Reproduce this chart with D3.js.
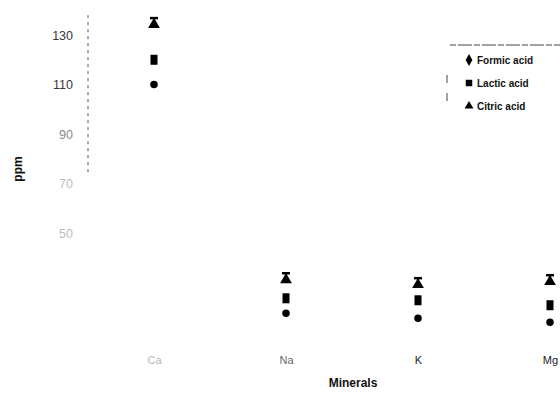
<!DOCTYPE html>
<html>
<head>
<meta charset="utf-8">
<script src="https://cdn.jsdelivr.net/npm/d3@7/dist/d3.min.js"></script>
<style>
  html, body { margin: 0; padding: 0; background: #fff; }
  svg { display: block; font-family: "Liberation Sans", Arial, sans-serif; }
</style>
</head>
<body>
<svg id="chart" width="560" height="395"></svg>
<script>
// Mineral content (ppm) extracted by three organic acids
const minerals = ["Ca", "Na", "K", "Mg"];
const formic = [110, 17.7, 15.6, 14.0];
const lactic = [120, 23.7, 22.9, 20.9];
const citric = [134.8, 31.8, 29.8, 31.0];
const yTicks = [50, 70, 90, 110, 130];
const seriesNames = ["Formic acid", "Lactic acid", "Citric acid"];

const svg = d3.select("#chart");

const x = d3.scalePoint()
  .domain(minerals)
  .range([154, 550]);

const y = d3.scaleLinear()
  .domain([0, 130])
  .range([357, 35]);

// Left axis: dashed spine with tick labels only
const yAxis = d3.axisLeft(y)
  .tickValues(yTicks)
  .tickSize(0)
  .tickPadding(15);

const gy = svg.append("g")
  .attr("transform", "translate(88,0)")
  .call(yAxis);
gy.select(".domain").remove();
gy.selectAll(".tick text")
  .attr("font-size", 12.5)
  .attr("font-family", "Liberation Sans, Arial, sans-serif")
  .attr("fill", "#222")
  .attr("opacity", d => d >= 110 ? 0.9 : d >= 90 ? 0.55 : 0.3);

svg.append("line")
  .attr("x1", 88).attr("x2", 88)
  .attr("y1", y(138)).attr("y2", y(73))
  .attr("stroke", "#555")
  .attr("stroke-width", 1)
  .attr("stroke-dasharray", "3,4");

// Category axis
const xAxis = d3.axisBottom(x).tickSize(0).tickPadding(0);
const gx = svg.append("g")
  .attr("transform", "translate(0,356)")
  .call(xAxis);
gx.select(".domain").remove();
gx.selectAll(".tick text")
  .attr("font-size", 11)
  .attr("font-family", "Liberation Sans, Arial, sans-serif")
  .attr("fill", "#222")
  .attr("opacity", d => d === "Ca" ? 0.35 : d === "Na" ? 0.7 : 1);

// Axis titles
svg.append("text")
  .attr("x", 353).attr("y", 387)
  .attr("text-anchor", "middle")
  .attr("font-size", 12)
  .attr("font-weight", "bold")
  .attr("fill", "#111")
  .text("Minerals");

svg.append("text")
  .attr("transform", "translate(22,169) rotate(-90)")
  .attr("text-anchor", "middle")
  .attr("font-size", 12)
  .attr("font-weight", "bold")
  .attr("fill", "#111")
  .text("ppm");

// Marker shapes
const circleSym = d3.symbol().type(d3.symbolCircle).size(44);
const triSym = d3.symbol().type(d3.symbolTriangle).size(60);

const marks = svg.append("g");

marks.selectAll("path.formic")
  .data(formic)
  .join("path")
  .attr("class", "formic")
  .attr("d", circleSym)
  .attr("transform", (d, i) => `translate(${x(minerals[i])},${y(d)})`)
  .attr("fill", "#000");

marks.selectAll("rect.lactic")
  .data(lactic)
  .join("rect")
  .attr("class", "lactic")
  .attr("x", (d, i) => x(minerals[i]) - 3.5)
  .attr("y", d => y(d) - 5)
  .attr("width", 7)
  .attr("height", 10)
  .attr("fill", "#000");

// Citric acid: triangle with an error-bar cap above it
const citricG = marks.selectAll("g.citric")
  .data(citric)
  .join("g")
  .attr("class", "citric")
  .attr("transform", (d, i) => `translate(${x(minerals[i])},${y(d)})`);
citricG.append("path")
  .attr("d", triSym)
  .attr("transform", "translate(0,1.5)")
  .attr("fill", "#000");
citricG.append("line")
  .attr("x1", 0).attr("x2", 0)
  .attr("y1", -5).attr("y2", 2)
  .attr("stroke", "#000").attr("stroke-width", 2);
citricG.append("line")
  .attr("x1", -4).attr("x2", 4)
  .attr("y1", -5).attr("y2", -5)
  .attr("stroke", "#000").attr("stroke-width", 2.5);

// Legend
const legend = svg.append("g").attr("transform", "translate(447,45)");
legend.append("line")
  .attr("x1", 3).attr("x2", 113)
  .attr("y1", 0).attr("y2", 0)
  .attr("stroke", "#444").attr("stroke-width", 1)
  .attr("stroke-dasharray", "6,2,14,2");
legend.append("line")
  .attr("x1", 0).attr("x2", 0)
  .attr("y1", 30).attr("y2", 64)
  .attr("stroke", "#444").attr("stroke-width", 1)
  .attr("stroke-dasharray", "8,10");

const legendSymbols = [
  d3.symbol().type(d3.symbolDiamond).size(40),
  d3.symbol().type(d3.symbolSquare).size(42),
  d3.symbol().type(d3.symbolTriangle).size(34)
];
const rows = legend.selectAll("g.row")
  .data(seriesNames)
  .join("g")
  .attr("class", "row")
  .attr("transform", (d, i) => `translate(0,${15 + i * 23})`);
rows.append("path")
  .attr("d", (d, i) => legendSymbols[i]())
  .attr("transform", "translate(22,0)")
  .attr("fill", "#000");
rows.append("text")
  .attr("x", 30).attr("y", 3.5)
  .attr("font-size", 10)
  .attr("font-weight", "bold")
  .attr("fill", "#111")
  .text(d => d);
</script>
</body>
</html>
